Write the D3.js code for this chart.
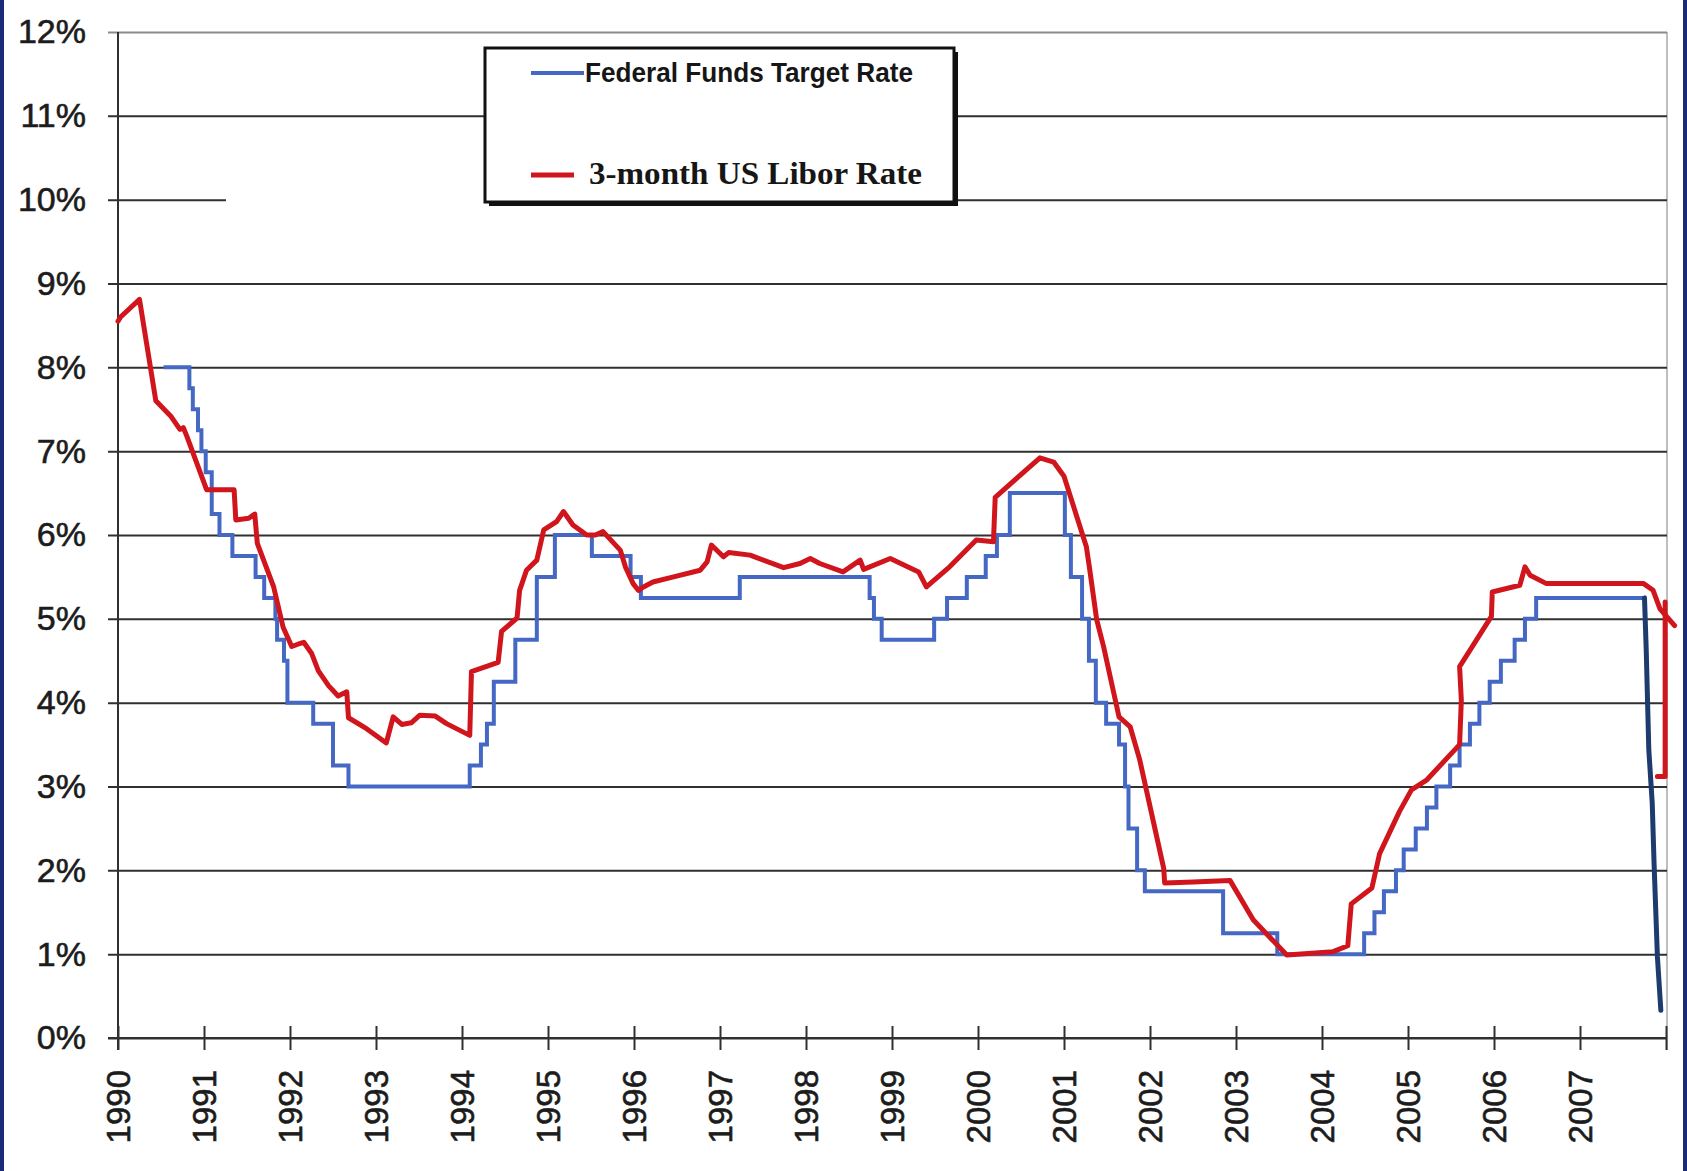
<!DOCTYPE html>
<html>
<head>
<meta charset="utf-8">
<script src="https://cdn.jsdelivr.net/npm/d3@7"></script>
<style>
  html, body { margin: 0; padding: 0; background: #ffffff; }
  svg { display: block; }
</style>
</head>
<body>
<svg id="chart" width="1687" height="1171"></svg>
<script>
// ---- Data -------------------------------------------------------------
// Years on the x axis (decimal years) and their labels
const yearTicks  = [1990,1991,1992,1993,1994,1995,1996,1997,1998,1999,2000,2001,2002,2003,2004,2005,2006,2007,2008];
const yearLabels = ["1990","1991","1992","1993","1994","1995","1996","1997","1998","1999","2000","2001","2002","2003","2004","2005","2006","2007",""];
const rateTicks  = [0,1,2,3,4,5,6,7,8,9,10,11,12];

const seriesNames = ["Federal Funds Target Rate", "3-month US Libor Rate"];

// Federal funds target rate: [decimal year, rate %], each value holds until the next change
const fedFundsTarget = [
  [1990.53,8.00],[1990.83,7.75],[1990.87,7.50],[1990.93,7.25],[1990.97,7.00],
  [1991.02,6.75],[1991.09,6.25],[1991.18,6.00],[1991.33,5.75],[1991.60,5.50],
  [1991.70,5.25],[1991.83,5.00],[1991.85,4.75],[1991.93,4.50],[1991.97,4.00],
  [1992.27,3.75],[1992.50,3.25],[1992.68,3.00],
  [1994.09,3.25],[1994.22,3.50],[1994.29,3.75],[1994.37,4.25],[1994.62,4.75],[1994.87,5.50],
  [1995.08,6.00],[1995.51,5.75],[1995.96,5.50],
  [1996.08,5.25],
  [1997.23,5.50],
  [1998.74,5.25],[1998.79,5.00],[1998.88,4.75],
  [1999.49,5.00],[1999.64,5.25],[1999.87,5.50],
  [2000.09,5.75],[2000.22,6.00],[2000.37,6.50],
  [2001.01,6.00],[2001.08,5.50],[2001.21,5.00],[2001.29,4.50],[2001.37,4.00],[2001.49,3.75],
  [2001.64,3.50],[2001.71,3.00],[2001.75,2.50],[2001.85,2.00],[2001.94,1.75],
  [2002.85,1.25],
  [2003.48,1.00],
  [2004.49,1.25],[2004.61,1.50],[2004.72,1.75],[2004.86,2.00],[2004.95,2.25],
  [2005.09,2.50],[2005.22,2.75],[2005.33,3.00],[2005.49,3.25],[2005.60,3.50],[2005.72,3.75],
  [2005.83,4.00],[2005.95,4.25],
  [2006.08,4.50],[2006.24,4.75],[2006.36,5.00],[2006.49,5.25],
  [2007.75,5.25]
];

// Late-2007 fall of the target rate, drawn freehand as a continuous line
const fedFundsLate = [
  [2007.75,5.25],[2007.77,4.63],[2007.80,3.44],[2007.84,2.80],[2007.86,2.12],[2007.90,0.97],[2007.94,0.33]
];

// 3-month US dollar Libor: [decimal year, rate %]
const libor3m = [
  [1990.00,8.55],[1990.03,8.60],[1990.25,8.81],[1990.44,7.60],[1990.62,7.41],[1990.72,7.26],
  [1990.76,7.28],[1990.80,7.18],[1991.03,6.54],[1991.35,6.54],[1991.37,6.18],[1991.52,6.20],
  [1991.59,6.25],[1991.62,5.90],[1991.81,5.38],[1991.92,4.90],[1992.02,4.67],[1992.10,4.70],
  [1992.16,4.72],[1992.25,4.59],[1992.33,4.38],[1992.45,4.20],[1992.56,4.08],[1992.66,4.13],
  [1992.68,3.82],[1992.89,3.69],[1993.12,3.52],[1993.20,3.83],[1993.30,3.74],[1993.41,3.76],
  [1993.51,3.85],[1993.69,3.84],[1993.82,3.75],[1994.09,3.61],[1994.11,4.37],[1994.42,4.48],
  [1994.46,4.85],[1994.64,5.01],[1994.67,5.34],[1994.75,5.58],[1994.87,5.70],[1994.95,6.06],
  [1995.10,6.16],[1995.18,6.28],[1995.29,6.12],[1995.45,6.00],[1995.55,6.00],[1995.64,6.04],
  [1995.84,5.82],[1995.90,5.62],[1995.99,5.42],[1996.05,5.34],[1996.11,5.38],[1996.22,5.44],
  [1996.46,5.50],[1996.77,5.58],[1996.85,5.68],[1996.90,5.88],[1997.04,5.74],[1997.10,5.79],
  [1997.35,5.76],[1997.74,5.61],[1997.93,5.66],[1998.05,5.72],[1998.16,5.66],[1998.43,5.56],
  [1998.63,5.70],[1998.67,5.59],[1998.98,5.72],[1999.31,5.56],[1999.40,5.38],[1999.67,5.62],
  [1999.98,5.94],[2000.18,5.92],[2000.20,6.45],[2000.72,6.92],[2000.88,6.87],[2001.00,6.70],
  [2001.26,5.86],[2001.30,5.58],[2001.38,4.99],[2001.46,4.67],[2001.64,3.83],[2001.77,3.71],
  [2001.88,3.32],[2002.16,2.02],[2002.17,1.85],[2002.50,1.86],[2002.93,1.88],[2003.20,1.41],
  [2003.59,0.99],[2004.13,1.03],[2004.30,1.10],[2004.34,1.60],[2004.58,1.79],[2004.67,2.20],
  [2004.90,2.70],[2005.04,2.96],[2005.22,3.08],[2005.60,3.50],[2005.62,4.03],[2005.60,4.43],
  [2005.97,5.03],[2005.98,5.32],[2006.30,5.40],[2006.36,5.62],[2006.42,5.52],[2006.61,5.42],
  [2007.74,5.42],[2007.85,5.34],[2007.93,5.12],[2008.10,4.92]
];

// Freehand drop marked at the end of 2007
const liborLate = [
  [2007.99,5.20],[2007.99,3.12],[2007.90,3.12]
];

// ---- Layout -------------------------------------------------------------
const svg = d3.select("#chart");
const W = 1687, H = 1171;
const plot = { left: 118, right: 1666, top: 32, bottom: 1038 };

const x = d3.scaleLinear().domain([1990, 2008]).range([plot.left, plot.right]);
const y = d3.scaleLinear().domain([0, 12]).range([plot.bottom, plot.top]);

const axisFont = "'Liberation Sans', Arial, Helvetica, sans-serif";

// Page background and side borders
svg.append("rect").attr("width", W).attr("height", H).attr("fill", "#ffffff");
svg.append("rect").attr("x", 0).attr("y", 0).attr("width", 4).attr("height", H).attr("fill", "#1b2a78");
svg.append("rect").attr("x", W - 4).attr("y", 0).attr("width", 4).attr("height", H).attr("fill", "#1b2a78");

// Right frame line of the plot
svg.append("line")
  .attr("x1", plot.right + 1).attr("x2", plot.right + 1)
  .attr("y1", plot.top).attr("y2", plot.bottom + 12)
  .attr("stroke", "#a8a8a8").attr("stroke-width", 1.5);

// Horizontal grid + y axis labels
const yAxis = d3.axisLeft(y)
  .tickValues(rateTicks)
  .tickFormat(d => d + "%")
  .tickSize(-(plot.right - plot.left + 1))
  .tickPadding(32);

const gy = svg.append("g")
  .attr("transform", `translate(${plot.left},0)`)
  .call(yAxis);
gy.select(".domain").remove();
gy.selectAll(".tick line")
  .attr("x1", -10)
  .attr("stroke", d => d === 12 ? "#8a8a8a" : "#303030")
  .attr("stroke-width", 2)
  // the 10% line is broken between the axis stub and the legend box
  .attr("stroke-dasharray", d => d === 10 ? "118,258,2000" : null);
gy.selectAll(".tick text")
  .attr("x", -32)
  .attr("fill", "#1c1c1c")
  .attr("stroke", "#1c1c1c").attr("stroke-width", 0.6)
  .style("font-family", axisFont)
  .style("font-size", "34px");

// Vertical axis line
svg.append("line")
  .attr("x1", plot.left).attr("x2", plot.left)
  .attr("y1", plot.top).attr("y2", plot.bottom + 12)
  .attr("stroke", "#303030").attr("stroke-width", 2);

// X axis with ticks crossing the baseline and rotated year labels
const xAxis = d3.axisBottom(x)
  .tickValues(yearTicks)
  .tickFormat((d, i) => yearLabels[i])
  .tickSize(12)
  .tickSizeOuter(0);

const gx = svg.append("g")
  .attr("transform", `translate(0,${plot.bottom})`)
  .call(xAxis);
gx.select(".domain")
  .attr("d", `M${plot.left - 10},0H${plot.right}`)
  .attr("stroke", "#303030").attr("stroke-width", 2);
gx.selectAll(".tick line")
  .attr("y1", -12)
  .attr("stroke", "#303030").attr("stroke-width", 2);
gx.selectAll(".tick text")
  .attr("transform", "rotate(-90)")
  .attr("text-anchor", "end")
  .attr("x", -32)
  .attr("y", 0)
  .attr("dy", "0.35em")
  .attr("fill", "#1c1c1c")
  .attr("stroke", "#1c1c1c").attr("stroke-width", 0.6)
  .style("font-family", axisFont)
  .style("font-size", "33px");

// ---- Series -------------------------------------------------------------
const stepLine = d3.line().x(d => x(d[0])).y(d => y(d[1])).curve(d3.curveStepAfter);
const plainLine = d3.line().x(d => x(d[0])).y(d => y(d[1]));

const blue = "#4468c4", navy = "#1d3b6c", red = "#d0161c";

svg.append("path")
  .datum(fedFundsTarget)
  .attr("d", stepLine)
  .attr("fill", "none")
  .attr("stroke", blue)
  .attr("stroke-width", 4)
  .attr("stroke-linejoin", "miter");

svg.append("path")
  .datum(fedFundsLate)
  .attr("d", plainLine)
  .attr("fill", "none")
  .attr("stroke", navy)
  .attr("stroke-width", 5)
  .attr("stroke-linecap", "round")
  .attr("stroke-linejoin", "round");

svg.append("path")
  .datum(libor3m)
  .attr("d", plainLine)
  .attr("fill", "none")
  .attr("stroke", red)
  .attr("stroke-width", 5)
  .attr("stroke-linejoin", "round")
  .attr("stroke-linecap", "round");

svg.append("path")
  .datum(liborLate)
  .attr("d", plainLine)
  .attr("fill", "none")
  .attr("stroke", red)
  .attr("stroke-width", 5)
  .attr("stroke-linejoin", "round")
  .attr("stroke-linecap", "round");

// ---- Legend -------------------------------------------------------------
const lg = svg.append("g").attr("transform", "translate(485,48)");
lg.append("rect")
  .attr("x", 4).attr("y", 4).attr("width", 469).attr("height", 154)
  .attr("fill", "#111111");
lg.append("rect")
  .attr("x", 0).attr("y", 0).attr("width", 469).attr("height", 154)
  .attr("fill", "#ffffff").attr("stroke", "#111111").attr("stroke-width", 3);

lg.append("line")
  .attr("x1", 46).attr("x2", 99).attr("y1", 25).attr("y2", 25)
  .attr("stroke", blue).attr("stroke-width", 4);
lg.append("text")
  .attr("x", 100).attr("y", 34)
  .attr("textLength", 328).attr("lengthAdjust", "spacingAndGlyphs")
  .attr("fill", "#161616")
  .style("font-family", "'Liberation Sans Narrow', 'Arial Narrow', 'Liberation Sans', Arial, sans-serif")
  .style("font-weight", "bold")
  .style("font-size", "27px")
  .text(seriesNames[0]);

lg.append("line")
  .attr("x1", 46).attr("x2", 89).attr("y1", 127).attr("y2", 127)
  .attr("stroke", red).attr("stroke-width", 5);
lg.append("text")
  .attr("x", 104).attr("y", 136)
  .attr("textLength", 333).attr("lengthAdjust", "spacingAndGlyphs")
  .attr("fill", "#161616")
  .style("font-family", "'Liberation Serif', 'Times New Roman', serif")
  .style("font-weight", "bold")
  .style("font-size", "32px")
  .text(seriesNames[1]);
</script>
</body>
</html>
